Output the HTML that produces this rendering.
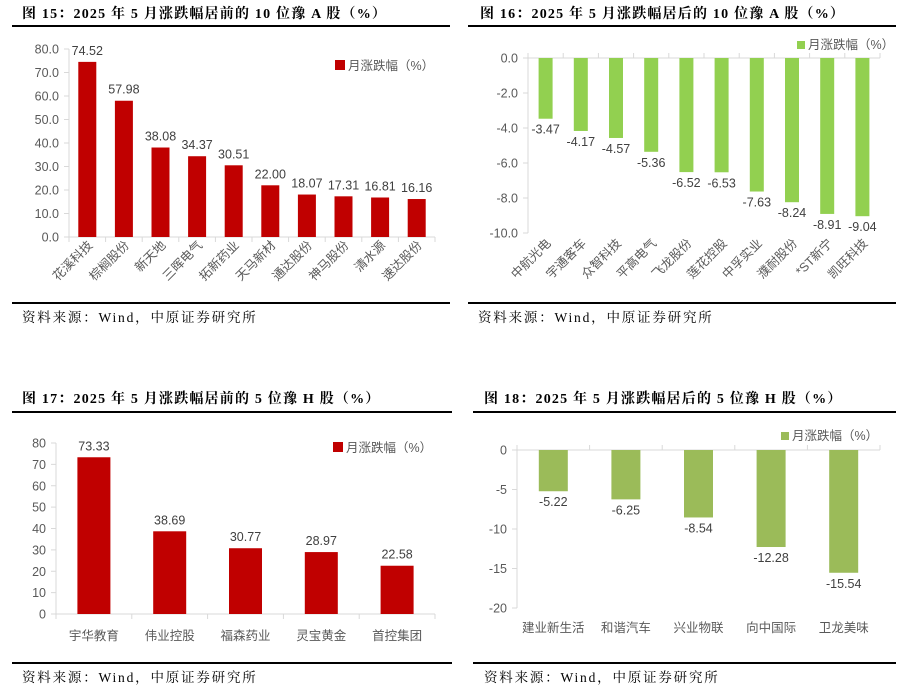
<!DOCTYPE html>
<html><head><meta charset="utf-8">
<style>
html,body{margin:0;padding:0;background:#fff;}
body{width:904px;height:690px;overflow:hidden;}
svg{display:block;}
.title{font-family:"Liberation Serif","Noto Serif CJK SC",serif;font-weight:bold;font-size:14px;letter-spacing:1.2px;fill:#000;}
.src{font-family:"Liberation Serif","Noto Serif CJK SC",serif;font-size:13.5px;letter-spacing:1.8px;fill:#000;}
.tick{font-family:"Liberation Sans","Noto Sans CJK SC",sans-serif;font-size:12.5px;fill:#595959;}
.cat{font-family:"Liberation Sans","Noto Sans CJK SC",sans-serif;font-size:12.5px;fill:#595959;}
.val{font-family:"Liberation Sans","Noto Sans CJK SC",sans-serif;font-size:12.5px;fill:#404040;}
.leg{font-family:"Liberation Sans","Noto Sans CJK SC",sans-serif;font-size:12.5px;fill:#595959;}
</style></head>
<body>
<svg id="svg" width="904" height="690" xmlns="http://www.w3.org/2000/svg">
<text class="title" x="22" y="18">图 15：2025 年 5 月涨跌幅居前的 10 位豫 A 股（%）</text>
<rect x="12" y="25" width="438" height="2" fill="#000"/>
<rect x="12" y="302" width="438" height="2" fill="#000"/>
<text class="src" x="22" y="322">资料来源：Wind，中原证券研究所</text>

<text class="title" x="480" y="18">图 16：2025 年 5 月涨跌幅居后的 10 位豫 A 股（%）</text>
<rect x="468" y="25" width="428" height="2" fill="#000"/>
<rect x="468" y="302" width="428" height="2" fill="#000"/>
<text class="src" x="478" y="322">资料来源：Wind，中原证券研究所</text>

<text class="title" x="22" y="403">图 17：2025 年 5 月涨跌幅居前的 5 位豫 H 股（%）</text>
<rect x="12" y="411" width="440" height="2" fill="#000"/>
<rect x="12" y="662" width="440" height="2" fill="#000"/>
<text class="src" x="22" y="682">资料来源：Wind，中原证券研究所</text>

<text class="title" x="484" y="403">图 18：2025 年 5 月涨跌幅居后的 5 位豫 H 股（%）</text>
<rect x="473" y="411" width="423" height="2" fill="#000"/>
<rect x="473" y="662" width="423" height="2" fill="#000"/>
<text class="src" x="484" y="682">资料来源：Wind，中原证券研究所</text>
</svg>
<script>
var c15Categories=["花溪科技","棕榈股份","新天地","三晖电气","拓新药业","天马新材","通达股份","神马股份","清水源","速达股份"];
var c15Values=[74.52,57.98,38.08,34.37,30.51,22.00,18.07,17.31,16.81,16.16];
var c15Ticks=[0,10,20,30,40,50,60,70,80];

var c16Categories=["中航光电","宇通客车","众智科技","平高电气","飞龙股份","莲花控股","中孚实业","濮耐股份","*ST新宁","凯旺科技"];
var c16Values=[-3.47,-4.17,-4.57,-5.36,-6.52,-6.53,-7.63,-8.24,-8.91,-9.04];
var c16Ticks=[0,-2,-4,-6,-8,-10];

var c17Categories=["宇华教育","伟业控股","福森药业","灵宝黄金","首控集团"];
var c17Values=[73.33,38.69,30.77,28.97,22.58];
var c17Ticks=[0,10,20,30,40,50,60,70,80];

var c18Categories=["建业新生活","和谐汽车","兴业物联","向中国际","卫龙美味"];
var c18Values=[-5.22,-6.25,-8.54,-12.28,-15.54];
var c18Ticks=[0,-5,-10,-15,-20];

var NS="http://www.w3.org/2000/svg";
var svg=document.getElementById('svg');
function mk(tag,attrs,parent){var e=document.createElementNS(NS,tag);for(var k in attrs)e.setAttribute(k,attrs[k]);(parent||svg).appendChild(e);return e;}

function draw(cfg){
  var g=mk('g',{});
  
  
  var ymin=cfg.ymin,ymax=cfg.ymax;
  function y(v){return cfg.yTop+(ymax-v)/(ymax-ymin)*(cfg.yBot-cfg.yTop);}
  var n=cfg.cats.length,step=(cfg.xR-cfg.xL)/n;
  function xc(i){return cfg.xL+step*(i+0.5);}
  var zeroY=y(0);
  var ax=mk('line',{x1:cfg.xL,x2:cfg.xL,y1:cfg.yTop,y2:cfg.yBot,stroke:'#d9d9d9','stroke-width':1},g);
  
  
  var bx=mk('line',{x1:cfg.xL,x2:cfg.xR,y1:zeroY,y2:zeroY,stroke:'#d9d9d9','stroke-width':1},g);
  
  
  for(var i=0;i<=n;i++){
    var tx=cfg.xL+step*i;
    var tm=mk('line',{x1:tx,x2:tx,y1:zeroY,y2:zeroY+(cfg.neg?-5:5),stroke:'#d9d9d9'},g);
    
    
  }
  cfg.ticks.forEach(function(t){
    var ty=y(t);
    var m=mk('line',{x1:cfg.xL-5,x2:cfg.xL,y1:ty,y2:ty,stroke:'#d9d9d9'},g);
    
    
    var l=mk('text',{x:cfg.xL-10,y:ty+4.5,'text-anchor':'end','class':'tick'},g);
    l.textContent=cfg.dec?t.toFixed(1):String(t);
    
    
  });
  cfg.vals.forEach(function(v,i){
    var y0=y(Math.max(v,0)),y1=y(Math.min(v,0));
    var r=mk('rect',{x:xc(i)-cfg.bw/2,y:y0,width:cfg.bw,height:y1-y0,fill:cfg.color},g);
    
    
    var vl=mk('text',{x:xc(i),y:v>=0?y(v)-7:y(v)+15,'text-anchor':'middle','class':'val'},g);
    vl.textContent=v.toFixed(2);
    
    
    var cl;
    if(cfg.rot){
      var ax2=xc(i)+6,ay=cfg.catY;
      cl=mk('text',{x:ax2,y:ay,'text-anchor':'end','class':'cat',transform:'rotate(-45 '+ax2+' '+ay+')'},g);
    }else{
      cl=mk('text',{x:xc(i),y:cfg.catY,'text-anchor':'middle','class':'cat'},g);
    }
    cl.textContent=cfg.cats[i];
    
    
  });
  var lg=mk('g',{},g);
  
  
  var ls=mk('rect',{x:cfg.legX,y:cfg.legY-5,width:cfg.legS,height:cfg.legS,fill:cfg.color},lg);
  
  
  var lt=mk('text',{x:cfg.legX+cfg.legS+3,y:cfg.legY+cfg.legS-5,'class':'leg'},lg);
  lt.textContent='月涨跌幅（%）';
  
  
}

draw({id:'chart15',cats:c15Categories,vals:c15Values,ticks:c15Ticks,ymin:0,ymax:80,yTop:49,yBot:237,xL:69,xR:435,bw:18,color:'#c00000',dec:true,rot:true,catY:246,legX:335,legY:65,legS:10});
draw({id:'chart16',cats:c16Categories,vals:c16Values,ticks:c16Ticks,ymin:-10,ymax:0,yTop:58,yBot:233,xL:528,xR:880,bw:14,color:'#92d050',dec:true,rot:true,catY:244,neg:true,legX:797,legY:46,legS:8});
draw({id:'chart17',cats:c17Categories,vals:c17Values,ticks:c17Ticks,ymin:0,ymax:80,yTop:443,yBot:614,xL:56,xR:435,bw:33,color:'#c00000',dec:false,rot:false,catY:640,legX:333,legY:447,legS:10});
draw({id:'chart18',cats:c18Categories,vals:c18Values,ticks:c18Ticks,ymin:-20,ymax:0,yTop:450,yBot:608,xL:517,xR:880,bw:29,color:'#9bbb59',dec:false,rot:false,catY:632,neg:true,legX:781,legY:437,legS:8});
</script>
</body></html>
